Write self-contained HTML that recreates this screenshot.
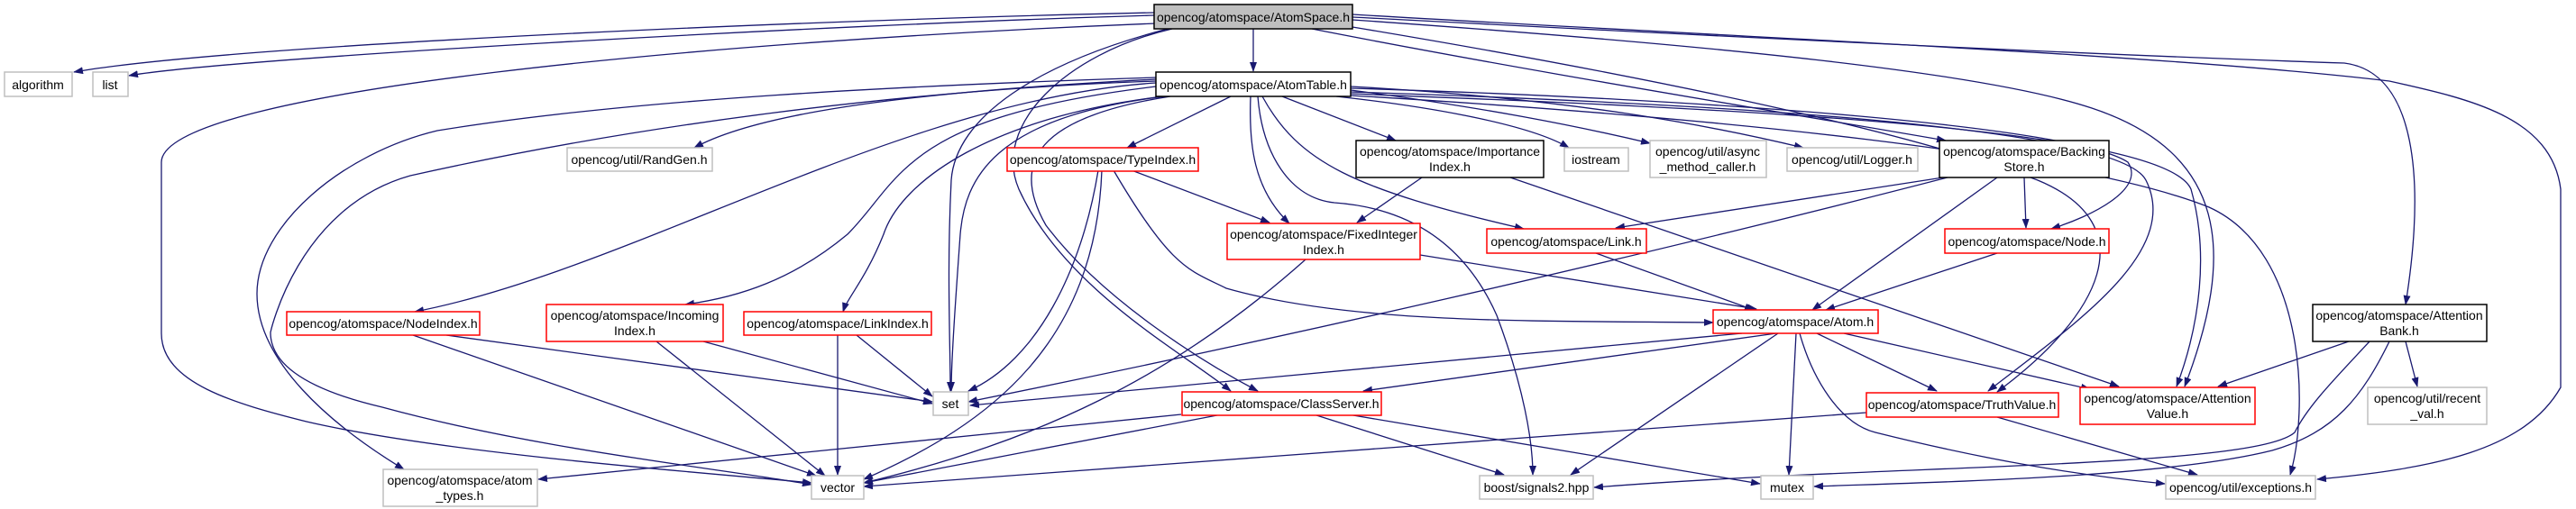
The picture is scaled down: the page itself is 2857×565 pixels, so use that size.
<!DOCTYPE html>
<html><head><meta charset="utf-8"><style>
html,body{margin:0;padding:0;background:#fff;width:2857px;height:565px;overflow:hidden}
svg{display:block}
text{font-family:"Liberation Sans",sans-serif;font-size:14px;fill:#000;text-anchor:middle}
.e{fill:none;stroke:#191970;stroke-width:1.3}
.g{fill:#fff;stroke:#bfbfbf;stroke-width:1.5}
.r{fill:#fff;stroke:#ff0000;stroke-width:1.5}
.k{fill:#fff;stroke:#000;stroke-width:1.5}
</style></head><body>
<svg width="2857" height="565" viewBox="0 0 2857 565" xmlns="http://www.w3.org/2000/svg">
<defs><marker id="a" markerWidth="11" markerHeight="8" refX="10" refY="4" orient="auto" markerUnits="userSpaceOnUse"><path d="M0,0 L11,4 L0,8 Z" fill="#191970"/></marker></defs>
<g class="e" marker-end="url(#a)">
<!-- AtomSpace -->
<path d="M1280,14 C900,22 250,50 82,80"/>
<path d="M1280,17 C900,28 250,65 143,84"/>
<path d="M1282,26 C800,45 180,100 179,180 L179,370 C179,425 260,448 340,468 C500,505 800,526 900,536"/>
<path d="M1295,32 C1150,70 1060,130 1055,200 C1050,300 1054,380 1054,434"/>
<path d="M1300,32 C1180,60 1100,140 1130,210 C1180,320 1310,390 1365,434"/>
<path d="M1390,32 L1390,79"/>
<path d="M1455,32 C1700,80 1950,120 2158,156"/>
<path d="M1500,22 C1900,50 2200,80 2320,120 C2470,170 2480,280 2423,429"/>
<path d="M1500,19 C1900,40 2300,60 2600,70 C2680,80 2690,200 2668,338"/>
<path d="M1500,16 C1900,40 2400,60 2650,90 C2740,110 2830,130 2840,210 L2840,430 C2800,500 2700,520 2570,532"/>
<path d="M1500,30 C1800,80 2100,140 2260,200 C2380,250 2330,350 2215,435"/>
<!-- AtomTable -->
<path d="M1282,88 C1050,100 850,120 770,164"/>
<path d="M1282,92 C1000,110 700,300 460,346"/>
<path d="M1282,96 C1000,130 1000,200 940,260 C880,310 820,330 760,338"/>
<path d="M1290,107 C1100,130 1000,200 980,260 C960,310 940,330 935,346"/>
<path d="M1282,86 C1000,95 700,110 485,145 C380,170 285,250 285,326 C285,400 364,470 448,521"/>
<path d="M1282,90 C1000,100 700,140 455,195 C330,230 300,369 300,369 C300,400 330,430 424,452 C600,500 800,520 900,538"/>
<path d="M1365,107 L1250,164"/>
<path d="M1292,107 C1100,130 1070,200 1065,260 C1060,330 1055,400 1055,434"/>
<path d="M1298,107 C1150,130 1120,180 1160,250 C1220,330 1330,400 1395,434"/>
<path d="M1387,107 C1385,160 1390,210 1430,248"/>
<path d="M1395,107 C1400,170 1430,220 1480,225 C1550,230 1620,260 1660,350 C1690,430 1700,490 1700,527"/>
<path d="M1400,107 C1440,180 1500,210 1690,254"/>
<path d="M1422,107 L1548,156"/>
<path d="M1482,107 C1600,120 1700,140 1740,164"/>
<path d="M1498,100 C1650,120 1750,140 1830,159"/>
<path d="M1498,96 C1750,110 1900,140 2000,164"/>
<path d="M1498,98 C1900,110 2300,140 2360,180 C2380,210 2320,240 2275,254"/>
<path d="M1498,102 C1900,115 2350,140 2380,200 C2420,280 2300,360 2205,434"/>
<path d="M1498,104 C1900,120 2400,140 2430,210 C2450,280 2440,360 2414,429"/>
<path d="M1498,106 C1900,130 2300,170 2450,230 C2560,280 2560,460 2540,527"/>
<!-- TypeIndex -->
<path d="M1218,189 C1200,300 1150,400 1074,434"/>
<path d="M1222,189 C1215,380 1100,470 958,532"/>
<path d="M1255,189 L1408,247"/>
<path d="M1235,189 C1300,300 1320,300 1360,320 C1500,360 1700,356 1900,358"/>
<!-- ImportanceIndex -->
<path d="M1577,197 L1505,247"/>
<path d="M1675,197 L2350,429"/>
<!-- BackingStore -->
<path d="M2155,197 L1792,253"/>
<path d="M2160,197 C1800,290 1400,380 1074,446"/>
<path d="M2215,197 L2010,344"/>
<path d="M2245,197 L2247,253"/>
<!-- FixedIntegerIndex -->
<path d="M1448,288 C1300,420 1150,490 958,536"/>
<path d="M1575,283 L1948,343"/>
<path d="M1770,281 L1945,344"/>
<path d="M2215,281 L2025,344"/>
<!-- NodeIndex etc -->
<path d="M495,372 L1034,446"/>
<path d="M458,372 L905,528"/>
<path d="M780,379 L1034,448"/>
<path d="M728,379 L915,528"/>
<path d="M950,372 L1034,440"/>
<path d="M929,372 L929,527"/>
<!-- Atom -->
<path d="M1932,370 L1076,450"/>
<path d="M1970,370 L1512,434"/>
<path d="M1972,370 L1742,527"/>
<path d="M1992,370 L1984,527"/>
<path d="M1996,370 C2010,420 2040,470 2080,480 C2200,510 2300,527 2401,537"/>
<path d="M2015,370 L2148,434"/>
<path d="M2045,370 L2318,432"/>
<!-- ClassServer -->
<path d="M1310,460 L597,532"/>
<path d="M1355,460 L958,536"/>
<path d="M1457,460 L1668,527"/>
<path d="M1495,460 L1952,537"/>
<!-- TruthValue -->
<path d="M2070,458 L958,540"/>
<path d="M2215,463 L2437,527"/>
<!-- AttentionBank -->
<path d="M2605,379 L2460,429"/>
<path d="M2668,379 L2681,429"/>
<path d="M2628,379 C2590,420 2560,450 2545,480 C2500,520 2100,515 1768,541"/>
<path d="M2650,379 C2620,440 2590,480 2520,500 C2400,530 2150,535 2012,540"/>
</g>
<!-- nodes -->
<rect x="1280" y="5" width="220" height="27" fill="#bfbfbf" stroke="#000" stroke-width="1.5"/><text x="1390" y="24">opencog/atomspace/AtomSpace.h</text>
<rect class="k" x="1282" y="80" width="216" height="27"/><text x="1390" y="99">opencog/atomspace/AtomTable.h</text>
<rect class="g" x="5" y="80" width="75" height="27"/><text x="42" y="99">algorithm</text>
<rect class="g" x="103" y="80" width="39" height="27"/><text x="122" y="99">list</text>
<rect class="g" x="629" y="164" width="161" height="26"/><text x="709" y="182">opencog/util/RandGen.h</text>
<rect class="r" x="1117" y="164" width="212" height="26"/><text x="1223" y="182">opencog/atomspace/TypeIndex.h</text>
<rect class="k" x="1504" y="156" width="208" height="41"/><text x="1608" y="173">opencog/atomspace/Importance</text><text x="1608" y="190">Index.h</text>
<rect class="g" x="1735" y="164" width="71" height="26"/><text x="1770" y="182">iostream</text>
<rect class="g" x="1830" y="156" width="129" height="41"/><text x="1894" y="173">opencog/util/async</text><text x="1894" y="190">_method_caller.h</text>
<rect class="g" x="1982" y="164" width="145" height="26"/><text x="2054" y="182">opencog/util/Logger.h</text>
<rect class="k" x="2151" y="156" width="188" height="41"/><text x="2245" y="173">opencog/atomspace/Backing</text><text x="2245" y="190">Store.h</text>
<rect class="r" x="1361" y="248" width="214" height="40"/><text x="1468" y="265">opencog/atomspace/FixedInteger</text><text x="1468" y="282">Index.h</text>
<rect class="r" x="1649" y="254" width="177" height="27"/><text x="1737" y="273">opencog/atomspace/Link.h</text>
<rect class="r" x="2157" y="254" width="182" height="27"/><text x="2248" y="273">opencog/atomspace/Node.h</text>
<rect class="r" x="318" y="346" width="214" height="26"/><text x="425" y="364">opencog/atomspace/NodeIndex.h</text>
<rect class="r" x="606" y="338" width="196" height="41"/><text x="704" y="355">opencog/atomspace/Incoming</text><text x="704" y="372">Index.h</text>
<rect class="r" x="825" y="346" width="208" height="26"/><text x="929" y="364">opencog/atomspace/LinkIndex.h</text>
<rect class="r" x="1900" y="344" width="183" height="26"/><text x="1991" y="362">opencog/atomspace/Atom.h</text>
<rect class="k" x="2565" y="338" width="193" height="41"/><text x="2661" y="355">opencog/atomspace/Attention</text><text x="2661" y="372">Bank.h</text>
<rect class="g" x="1035" y="435" width="39" height="26"/><text x="1054" y="453">set</text>
<rect class="r" x="1311" y="435" width="221" height="26"/><text x="1421" y="453">opencog/atomspace/ClassServer.h</text>
<rect class="r" x="2070" y="436" width="213" height="27"/><text x="2176" y="454">opencog/atomspace/TruthValue.h</text>
<rect class="r" x="2307" y="430" width="194" height="41"/><text x="2404" y="447">opencog/atomspace/Attention</text><text x="2404" y="464">Value.h</text>
<rect class="g" x="2626" y="430" width="132" height="41"/><text x="2692" y="447">opencog/util/recent</text><text x="2692" y="464">_val.h</text>
<rect class="g" x="425" y="521" width="171" height="41"/><text x="510" y="538">opencog/atomspace/atom</text><text x="510" y="555">_types.h</text>
<rect class="g" x="900" y="528" width="58" height="26"/><text x="929" y="546">vector</text>
<rect class="g" x="1641" y="528" width="126" height="26"/><text x="1704" y="546">boost/signals2.hpp</text>
<rect class="g" x="1953" y="528" width="58" height="26"/><text x="1982" y="546">mutex</text>
<rect class="g" x="2402" y="528" width="166" height="26"/><text x="2485" y="546">opencog/util/exceptions.h</text>
</svg>
</body></html>
